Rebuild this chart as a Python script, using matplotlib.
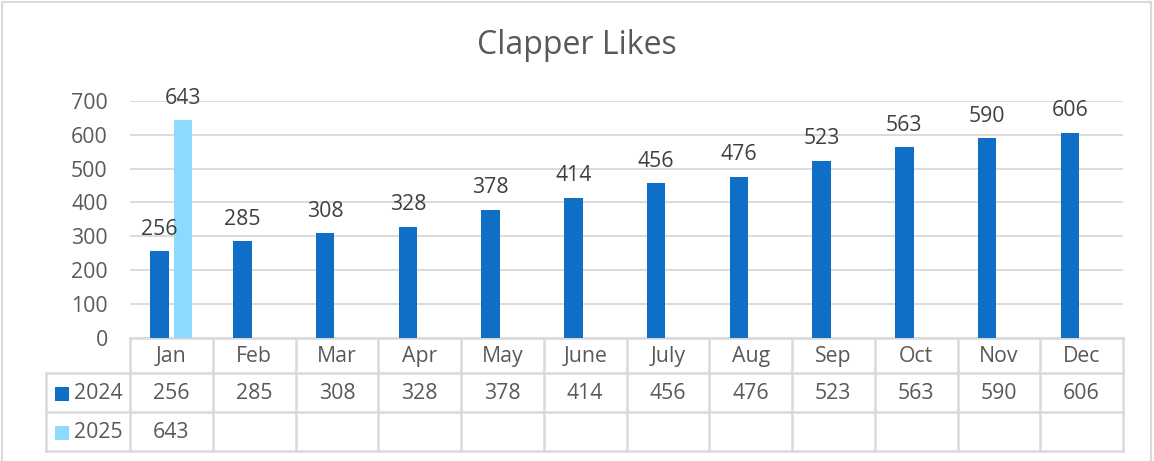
import matplotlib
matplotlib.use("Agg")
import matplotlib.pyplot as plt
import numpy as np

months = ["Jan", "Feb", "Mar", "Apr", "May", "June", "July", "Aug", "Sep", "Oct", "Nov", "Dec"]
series_names = ["2024", "2025"]
likes_2024 = [256, 285, 308, 328, 378, 414, 456, 476, 523, 563, 590, 606]
likes_2025 = [643]
yticks = [0, 100, 200, 300, 400, 500, 600, 700]
title = "Clapper Likes"

colors = ["#0F6FC6", "#8CDBFF"]
text_col = "#595959"
label_col = "#404040"
grid_col = "#D9D9D9"
FONT = "Open Sans"
FS = 15.3

W, H = 1154, 461
fig = plt.figure(figsize=(W / 100, H / 100), dpi=100)

# plot area in pixels
px_l, px_r, px_top, px_bot = 130, 1123, 101, 337.5
ax = fig.add_axes([px_l / W, (H - px_bot) / H, (px_r - px_l) / W, (px_bot - px_top) / H])
n = len(months)
x = np.arange(n)
bw = 0.224
off = 0.142
ax.bar(x - off, likes_2024, bw, color=colors[0], zorder=3)
x25 = x[:len(likes_2025)]
ax.bar(x25 + off, likes_2025, bw, color=colors[1], zorder=3)
for xi, v in zip(x - off, likes_2024):
    ax.text(xi, v + 34, str(v), ha="center", va="bottom", fontsize=FS, color=label_col, family=FONT)
for xi, v in zip(x25 + off, likes_2025):
    ax.text(xi, v + 34, str(v), ha="center", va="bottom", fontsize=FS, color=label_col, family=FONT)

ax.set_xlim(-0.5, n - 0.5)
ax.set_ylim(0, 700)
ax.set_yticks(yticks)
ax.set_yticklabels([str(t) for t in yticks], fontsize=FS, color=text_col, family=FONT)
ax.set_xticks([])
ax.tick_params(axis="y", length=0, pad=16)
for s in ax.spines.values():
    s.set_visible(False)
ax.grid(axis="y", color=grid_col, linewidth=1.3, zorder=0)
ax.set_axisbelow(True)

# overlay in pixel coordinates for table and border
ov = fig.add_axes([0, 0, 1, 1], zorder=-1)
ov.set_xlim(0, W)
ov.set_ylim(H, 0)
ov.axis("off")
ov.patch.set_alpha(0)

colw = (px_r - px_l) / n
row_y = [px_bot, 373, 412, 451]
leg_l = 46
lw = 1.8
ov.plot([px_l, px_r], [row_y[0], row_y[0]], color=grid_col, lw=lw)
for ry in row_y[1:]:
    ov.plot([leg_l, px_r], [ry, ry], color=grid_col, lw=lw)
for i in range(n + 1):
    xx = px_l + i * colw
    ov.plot([xx, xx], [row_y[0], row_y[-1]], color=grid_col, lw=lw)
ov.plot([leg_l, leg_l], [row_y[1], row_y[-1]], color=grid_col, lw=lw)

for i, m in enumerate(months):
    cx = px_l + (i + 0.5) * colw
    ov.text(cx, (row_y[0] + row_y[1]) / 2 + 1, m, ha="center", va="center", fontsize=FS, color=text_col, family=FONT)
rows = [likes_2024, likes_2025]
for r, (name, vals) in enumerate(zip(series_names, rows)):
    cy = (row_y[r + 1] + row_y[r + 2]) / 2 + 1
    ov.add_patch(plt.Rectangle((55, cy - 7), 14, 14, color=colors[r], lw=0))
    ov.text(74, cy, name, ha="left", va="center", fontsize=FS, color=text_col, family=FONT)
    for i, v in enumerate(vals):
        cx = px_l + (i + 0.5) * colw
        ov.text(cx, cy, str(v), ha="center", va="center", fontsize=FS, color=text_col, family=FONT)

ov.add_patch(plt.Rectangle((2, 2), 1149, 470, fill=False, edgecolor="#D9D9D9", lw=1.5))

fig.text(577 / W, 1 - 46 / H, title, ha="center", va="center", fontsize=23, color=text_col, family=FONT)

fig.savefig("out.png", dpi=100)
